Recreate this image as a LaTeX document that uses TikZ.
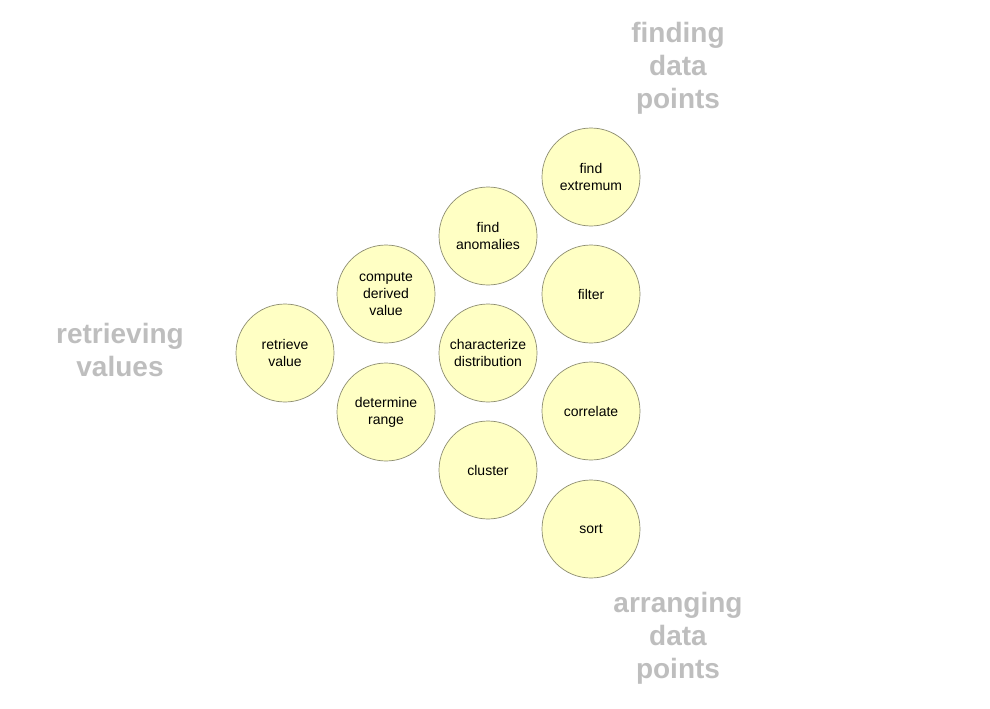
\documentclass[tikz,border=0pt]{standalone}
\usepackage{fontspec}
\setmainfont{Liberation Sans}
\definecolor{cfill}{HTML}{FFFFC4}
\definecolor{cdraw}{HTML}{8C8C70}
\definecolor{tgray}{HTML}{BEBEBE}
\begin{document}
\begin{tikzpicture}[x=1pt,y=-1pt,
  task/.style={circle,draw=cdraw,fill=cfill,minimum size=98pt,inner sep=0pt,align=center,font=\fontsize{14}{17}\selectfont,line width=0.7pt},
  cat/.style={text=tgray,font=\bfseries\fontsize{28}{33}\selectfont,align=center}]
\useasboundingbox (0,0) rectangle (990,709);
\node[task] (rv) at (285,353) {retrieve\\value};
\node[task] (cdv) at (386,294) {compute\\derived\\value};
\node[task] (dr) at (386,412) {determine\\range};
\node[task] (fa) at (488,236) {find\\anomalies};
\node[task] (cd) at (488,353) {characterize\\distribution};
\node[task] (cl) at (488,470) {cluster};
\node[task] (fe) at (591,177) {find\\extremum};
\node[task] (fi) at (591,294) {filter};
\node[task] (co) at (591,411) {correlate};
\node[task] (so) at (591,529) {sort};
\node[cat] (t1) at (120,350) {retrieving\\values};
\node[cat] (t2) at (678,68) {finding\\data\\points};
\node[cat] (t3) at (678,638) {arranging\\data\\points};
\end{tikzpicture}
\end{document}
